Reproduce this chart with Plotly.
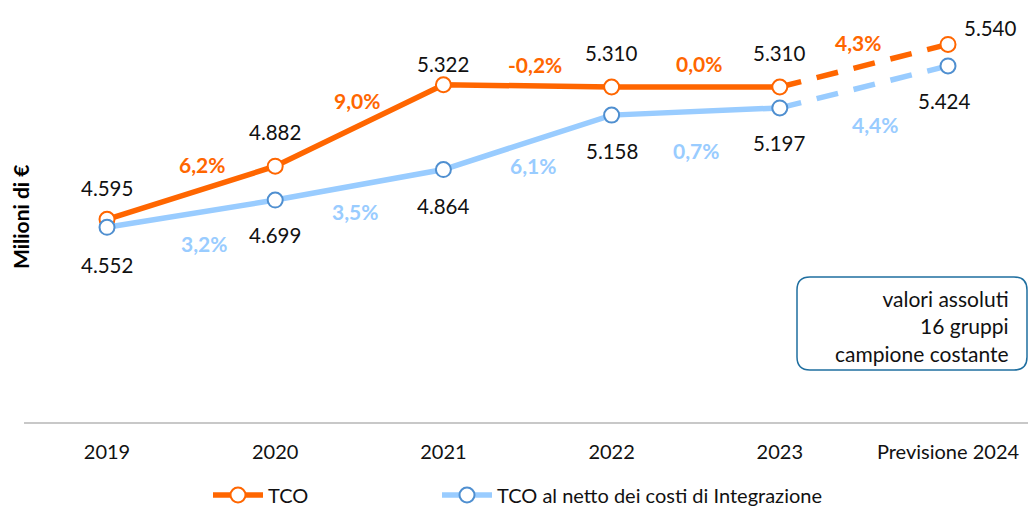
import plotly.graph_objects as go

# ---- data ----
categories = ["2019", "2020", "2021", "2022", "2023", "Previsione 2024"]
tco = [4595, 4882, 5322, 5310, 5310, 5540]
tco_net = [4552, 4699, 4864, 5158, 5197, 5424]
tco_growth = ["6,2%", "9,0%", "-0,2%", "0,0%", "4,3%"]
net_growth = ["3,2%", "3,5%", "6,1%", "0,7%", "4,4%"]
series_names = ["TCO", "TCO al netto dei costi di Integrazione"]
note_lines = ["valori assoluti", "16 gruppi", "campione costante"]
y_title = "Milioni di €"

ORANGE = "#FF6600"
LBLUE = "#99CCFF"
MBLUE = "#4F8FD0"
FONT = "Lato"

W, H = 1028, 508
ML, MR, MT, MB = 24, 0, 0, 86
PW, PH = W - ML - MR, H - MT - MB


def fmt(v):
    return f"{v:,}".replace(",", ".")


fig = go.Figure()

n = len(categories)
solid = list(range(n - 1))
dash_idx = [n - 2, n - 1]

# dashed forecast segments (no legend)
fig.add_trace(go.Scatter(x=[categories[i] for i in dash_idx], y=[tco[i] for i in dash_idx],
                         mode="lines", line=dict(color=ORANGE, width=5.5, dash="22px,16px"),
                         showlegend=False, hoverinfo="skip"))
fig.add_trace(go.Scatter(x=[categories[i] for i in dash_idx], y=[tco_net[i] for i in dash_idx],
                         mode="lines", line=dict(color=LBLUE, width=5.5, dash="22px,16px"),
                         showlegend=False, hoverinfo="skip"))

# TCO
fig.add_trace(go.Scatter(x=[categories[i] for i in solid], y=[tco[i] for i in solid],
                         mode="lines+markers", name=series_names[0], legend="legend",
                         line=dict(color=ORANGE, width=5.5),
                         marker=dict(size=15, color="white", line=dict(color=ORANGE, width=2))))
fig.add_trace(go.Scatter(x=[categories[-1]], y=[tco[-1]], mode="markers", showlegend=False,
                         marker=dict(size=15, color="white", line=dict(color=ORANGE, width=2))))
# Net
fig.add_trace(go.Scatter(x=[categories[i] for i in solid], y=[tco_net[i] for i in solid],
                         mode="lines+markers", name=series_names[1], legend="legend2",
                         line=dict(color=LBLUE, width=5.5),
                         marker=dict(size=15, color="white", line=dict(color=MBLUE, width=2))))
fig.add_trace(go.Scatter(x=[categories[-1]], y=[tco_net[-1]], mode="markers", showlegend=False,
                         marker=dict(size=15, color="white", line=dict(color=MBLUE, width=2))))

ann = []
# value labels (pixel offsets)
tco_off = [(0, 31), (0, 34), (0, 21), (0, 34), (0, 34), (42, 16)]
net_off = [(0, -38), (0, -35), (0, -36), (0, -36), (0, -35), (-4, -35)]
for i in range(n):
    ann.append(dict(x=i, y=tco[i], text=fmt(tco[i]), showarrow=False,
                    xshift=tco_off[i][0], yshift=tco_off[i][1],
                    font=dict(family=FONT, size=20.5, color="#111111")))
    ann.append(dict(x=i, y=tco_net[i], text=fmt(tco_net[i]), showarrow=False,
                    xshift=net_off[i][0], yshift=net_off[i][1],
                    font=dict(family=FONT, size=20.5, color="#111111")))

# growth labels
tco_g_off = [(11, 28), (-2, 25), (7, 21), (3, 23), (-6, 23)]
net_g_off = [(13, -30), (-4, -27), (5, -23), (0, -39), (11, -38)]
for i in range(n - 1):
    ann.append(dict(x=i + 0.5, y=(tco[i] + tco[i + 1]) / 2, text="<b>%s</b>" % tco_growth[i],
                    showarrow=False, xshift=tco_g_off[i][0], yshift=tco_g_off[i][1],
                    font=dict(family=FONT, size=21, color=ORANGE)))
    ann.append(dict(x=i + 0.5, y=(tco_net[i] + tco_net[i + 1]) / 2, text="<b>%s</b>" % net_growth[i],
                    showarrow=False, xshift=net_g_off[i][0], yshift=net_g_off[i][1],
                    font=dict(family=FONT, size=21, color=LBLUE)))


def px(xp):
    return (xp - ML) / PW


def py(yp):
    return (MT + PH - yp) / PH


# y-axis title
ann.append(dict(xref="paper", yref="paper", x=px(20), y=py(217), xanchor="center", yanchor="middle",
                text="<b>%s</b>" % y_title,
                textangle=-90, showarrow=False, font=dict(family=FONT, size=21, color="black")))

# note box text
ann.append(dict(xref="paper", yref="paper", x=px(1011), y=py(326), xanchor="right", yanchor="middle",
                align="right", text="<br>".join(note_lines), showarrow=False,
                font=dict(family=FONT, size=21, color="#111111")))

# rounded box path
x0, x1, y0, y1, r = 797, 1027, 277, 370, 13
pts = [
    f"M {px(x0 + r)},{py(y0)}",
    f"L {px(x1 - r)},{py(y0)}",
    f"Q {px(x1)},{py(y0)} {px(x1)},{py(y0 + r)}",
    f"L {px(x1)},{py(y1 - r)}",
    f"Q {px(x1)},{py(y1)} {px(x1 - r)},{py(y1)}",
    f"L {px(x0 + r)},{py(y1)}",
    f"Q {px(x0)},{py(y1)} {px(x0)},{py(y1 - r)}",
    f"L {px(x0)},{py(y0 + r)}",
    f"Q {px(x0)},{py(y0)} {px(x0 + r)},{py(y0)} Z",
]
shapes = [dict(type="path", xref="paper", yref="paper", path=" ".join(pts),
               line=dict(color="#1F6FA0", width=1.5), fillcolor="rgba(0,0,0,0)")]

leg_common = dict(orientation="h", xref="container", yref="container", xanchor="left",
                  yanchor="middle", y=(H - 495) / H, itemwidth=50,
                  font=dict(family=FONT, size=20, color="#111111"), bgcolor="rgba(0,0,0,0)")

fig.update_layout(
    width=W, height=H,
    margin=dict(l=ML, r=MR, t=MT, b=MB, autoexpand=False),
    paper_bgcolor="white", plot_bgcolor="white",
    font=dict(family=FONT, size=18, color="#111111"),
    xaxis=dict(type="category", categoryorder="array", categoryarray=categories,
               range=[-0.4935, 5.4756], showgrid=False, zeroline=False, automargin=False,
               showline=True, linecolor="#C8C8C8", linewidth=2,
               ticks="", tickfont=dict(family=FONT, size=20, color="#111111"), ticklabelstandoff=11),
    yaxis=dict(range=[3500, 5780], showgrid=False, zeroline=False, showline=False,
               showticklabels=False, ticks="", automargin=False),
    legend=dict(x=208 / W, **leg_common),
    legend2=dict(x=437 / W, **leg_common),
    annotations=ann, shapes=shapes, showlegend=True,
)

fig.write_html("out.html", config={"displayModeBar": False},
               post_script="document.body.style.margin='0';document.body.style.overflow='hidden';")
